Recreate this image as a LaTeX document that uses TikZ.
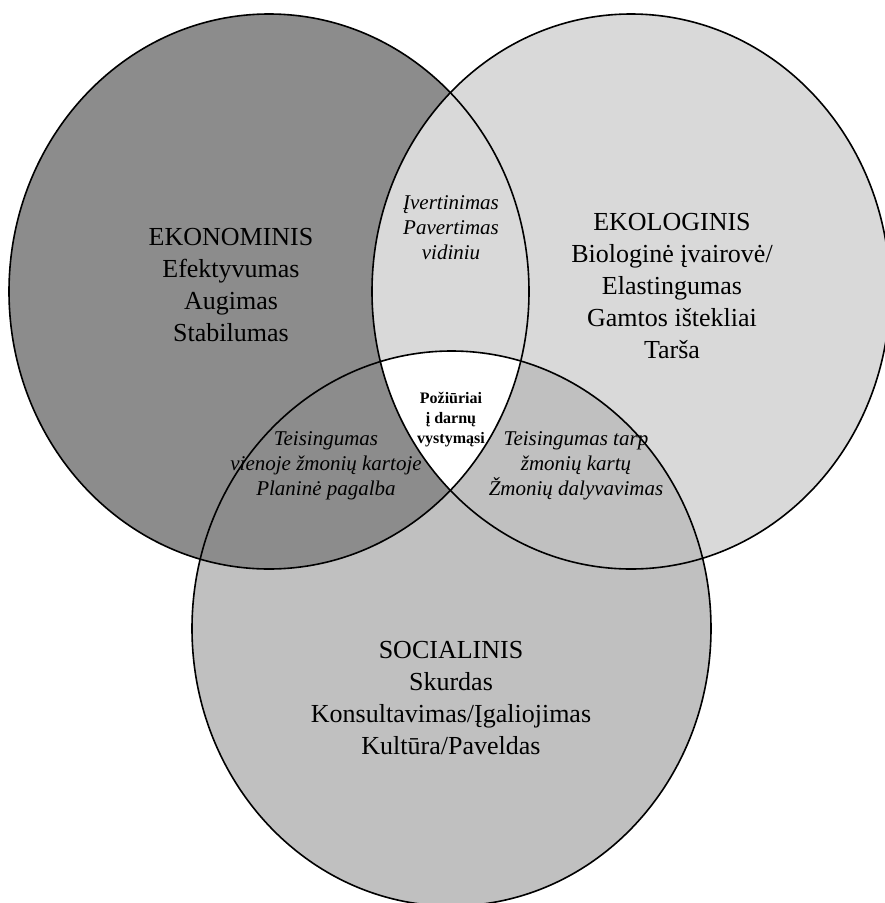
\documentclass[tikz,border=0pt]{standalone}
\usepackage{fontspec}
\setmainfont{Liberation Serif}
\definecolor{econfill}{HTML}{8C8C8C}
\definecolor{ecofill}{HTML}{D9D9D9}
\definecolor{socfill}{HTML}{C0C0C0}
\begin{document}
\begin{tikzpicture}[x=1pt,y=-1pt,
  ring/.style={draw=black,line width=1.6pt},
  mainlabel/.style={align=center,font=\fontsize{26}{32}\selectfont,inner sep=0pt},
  pairlabel/.style={align=center,font=\fontsize{21}{25}\selectfont\itshape,inner sep=0pt},
  corelabel/.style={align=center,font=\fontsize{16}{20}\selectfont\bfseries,inner sep=0pt}]
\useasboundingbox (0,0) rectangle (885,903);
% base fills
\fill[socfill] (451.5,628.5) ellipse [x radius=259.5pt, y radius=277.5pt];
\fill[econfill] (269,291.5) ellipse [x radius=260pt, y radius=277.5pt];
\fill[ecofill] (631,291.5) ellipse [x radius=259pt, y radius=277.5pt];
% social over ecological
\begin{scope}
  \clip (631,291.5) ellipse [x radius=259pt, y radius=277.5pt];
  \fill[socfill] (451.5,628.5) ellipse [x radius=259.5pt, y radius=277.5pt];
\end{scope}
% common core
\begin{scope}
  \clip (631,291.5) ellipse [x radius=259pt, y radius=277.5pt];
  \clip (269,291.5) ellipse [x radius=260pt, y radius=277.5pt];
  \fill[white] (451.5,628.5) ellipse [x radius=259.5pt, y radius=277.5pt];
\end{scope}
% outlines
\draw[ring] (269,291.5) ellipse [x radius=260pt, y radius=277.5pt];
\draw[ring] (631,291.5) ellipse [x radius=259pt, y radius=277.5pt];
\draw[ring] (451.5,628.5) ellipse [x radius=259.5pt, y radius=277.5pt];
% labels
\node[mainlabel] (econ) at (231,285.5) {EKONOMINIS\\Efektyvumas\\Augimas\\Stabilumas};
\node[mainlabel] (eco) at (672,286) {EKOLOGINIS\\Biologinė įvairovė/\\Elastingumas\\Gamtos ištekliai\\Tarša};
\node[mainlabel] (soc) at (451,698) {SOCIALINIS\\Skurdas\\Konsultavimas/Įgaliojimas\\Kultūra/Paveldas};
\node[pairlabel] (econeco) at (451,228) {Įvertinimas\\Pavertimas\\vidiniu};
\node[pairlabel] (econsoc) at (326,466) {Teisingumas\\vienoje žmonių kartoje\\Planinė pagalba};
\node[pairlabel] (ecosoc) at (576,466) {Teisingumas tarp\\žmonių kartų\\Žmonių dalyvavimas};
\node[corelabel] (core) at (451,420) {Požiūriai\\į darnų\\vystymąsi};
\end{tikzpicture}
\end{document}
